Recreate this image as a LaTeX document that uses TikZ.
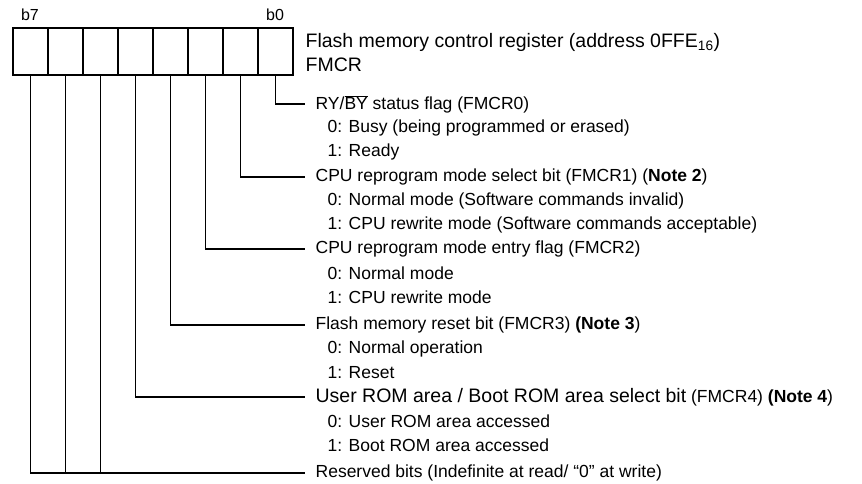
\documentclass[tikz,border=0pt]{standalone}
\usepackage{fontspec}
\setmainfont{Liberation Sans}
\usetikzlibrary{positioning}

\begin{document}
\begin{tikzpicture}[x=1pt,y=-1pt,line width=1.3pt,
    cell/.style={draw,minimum width=35pt,minimum height=47pt,inner sep=0pt,outer sep=0pt},
    big/.style={font=\fontsize{19.5}{22}\selectfont,anchor=west,inner sep=0pt},
    ttl/.style={font=\fontsize{17.5}{20}\selectfont,anchor=west,inner sep=0pt}]
\useasboundingbox (0,0) rectangle (862,484);
% register cells, b0 on the right
\foreach \i in {0,...,7}
  \node[cell] (c\i) at ({275.5-35*\i},51.5) {};
\node[ttl,font=\fontsize{16}{18}\selectfont,anchor=center] (b7) at (30,15) {b7};
\node[ttl,font=\fontsize{16}{18}\selectfont,anchor=center] (b0) at (275,15) {b0};
\node[big] (reg) at (305,42) {Flash memory control register (address 0FFE\textsubscript{16})};
\node[big] (fmcr) at (305,65) {FMCR};

% bit descriptions
\node[ttl] (t0) at (315,104) {RY/$\overline{\hbox{BY}}$ status flag (FMCR0)};
\node[ttl] (t0a) at (327,128) {0: Busy (being programmed or erased)};
\node[ttl] (t0b) at (327,152) {1: Ready};
\node[ttl] (t1) at (315,177) {CPU reprogram mode select bit (FMCR1) (\textbf{Note 2})};
\node[ttl] (t1a) at (327,201) {0: Normal mode (Software commands invalid)};
\node[ttl] (t1b) at (327,225) {1: CPU rewrite mode (Software commands acceptable)};
\node[ttl] (t2) at (315,249) {CPU reprogram mode entry flag (FMCR2)};
\node[ttl] (t2a) at (327,273) {0: Normal mode};
\node[ttl] (t2b) at (327,297) {1: CPU rewrite mode};
\node[ttl] (t3) at (315,325) {Flash memory reset bit (FMCR3) \textbf{(Note 3})};
\node[ttl] (t3a) at (327,349) {0: Normal operation};
\node[ttl] (t3b) at (327,373) {1: Reset};
\node[ttl] (t4) at (315,397) {{\fontsize{19.5}{22}\selectfont User ROM area / Boot ROM area select bit} (FMCR4) \textbf{(Note 4})};
\node[ttl] (t4a) at (327,421) {0: User ROM area accessed};
\node[ttl] (t4b) at (327,445) {1: Boot ROM area accessed};
\node[ttl] (t5) at (315,473) {Reserved bits (Indefinite at read/ “0” at write)};

% leader lines
\foreach \i in {0,...,4}
  \draw (c\i.south) |- ([xshift=-10pt]t\i.west);
\draw (c7.south) |- ([xshift=-10pt]t5.west);
\draw (c6.south) -- (c6.south |- t5.west);
\draw (c5.south) -- (c5.south |- t5.west);
\end{tikzpicture}
\end{document}
